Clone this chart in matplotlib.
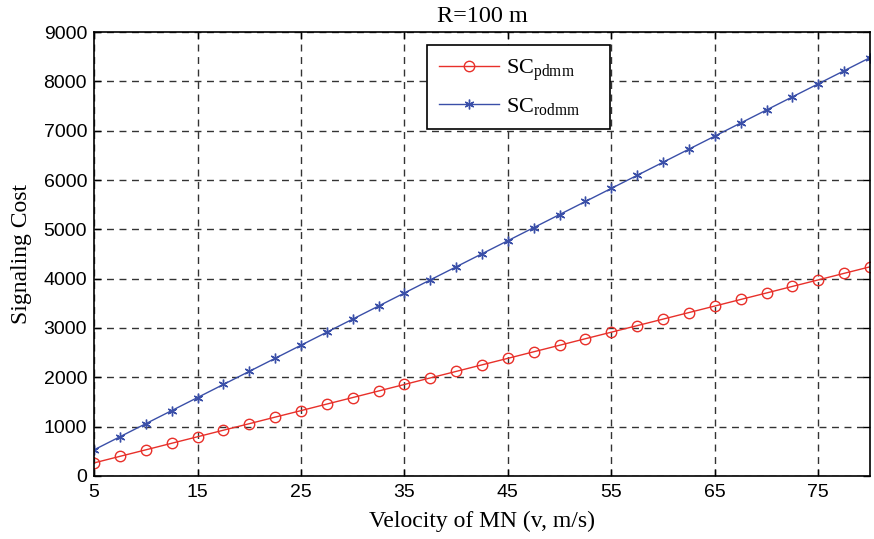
import matplotlib
matplotlib.use("Agg")
import matplotlib.pyplot as plt

velocity = [5, 7.5, 10, 12.5, 15, 17.5, 20, 22.5, 25, 27.5, 30, 32.5, 35, 37.5, 40,
            42.5, 45, 47.5, 50, 52.5, 55, 57.5, 60, 62.5, 65, 67.5, 70, 72.5, 75, 77.5, 80]
sc_pdmm = [265, 398, 530, 663, 795, 928, 1060, 1193, 1325, 1458, 1590, 1723, 1855, 1988, 2120,
           2253, 2385, 2518, 2650, 2783, 2915, 3048, 3180, 3313, 3445, 3578, 3710, 3843, 3975, 4108, 4240]
sc_rodmm = [530, 795, 1060, 1325, 1590, 1855, 2120, 2385, 2650, 2915, 3180, 3445, 3710, 3975, 4240,
            4505, 4770, 5035, 5300, 5565, 5830, 6095, 6360, 6625, 6890, 7155, 7420, 7685, 7950, 8215, 8480]
xticks = [5, 15, 25, 35, 45, 55, 65, 75]
yticks = [0, 1000, 2000, 3000, 4000, 5000, 6000, 7000, 8000, 9000]

plt.rcParams['mathtext.fontset'] = 'custom'
plt.rcParams['mathtext.rm'] = 'Liberation Serif'
plt.rcParams['mathtext.it'] = 'Liberation Serif'

fig = plt.figure(figsize=(8.74, 5.39), dpi=100)
ax = fig.add_axes([0.1076, 0.1169, 0.8878, 0.8237])

red = '#e8302a'
blue = '#3a4fa8'
ax.plot(velocity, sc_pdmm, color=red, lw=1, marker='o', ms=7.5, mfc='none', mec=red, mew=1,
        label=r'SC$_{\mathrm{pdmm}}$')
ax.plot(velocity, sc_rodmm, color=blue, lw=1, marker=(6, 2, 0), ms=7, mec=blue, mew=1,
        label=r'SC$_{\mathrm{rodmm}}$')

ax.set_xlim(5, 80)
ax.set_ylim(0, 9000)
ax.set_xticks(xticks)
ax.set_yticks(yticks)
ax.tick_params(direction='in', top=True, right=True, labelsize=14, length=5, width=1)
ax.tick_params(axis='x', pad=6)
ax.tick_params(axis='y', pad=5)
for lab in ax.get_xticklabels() + ax.get_yticklabels():
    lab.set_family('Liberation Sans')
ax.grid(True, color='#333333', linestyle=(0, (5, 4)), lw=1)
for s in ax.spines.values():
    s.set_linewidth(1.2)

ax.set_xlabel('Velocity of MN (v, m/s)', family='Liberation Serif', fontsize=17, labelpad=7)
ax.set_ylabel('Signaling Cost', family='Liberation Serif', fontsize=17, labelpad=8)
ax.set_title('R=100 m', family='Liberation Serif', fontsize=17.5, pad=7)

leg = ax.legend(loc='upper left', bbox_to_anchor=(0.429, 0.0, 0.236, 0.9707), mode='expand',
                borderaxespad=0,
                prop={'family': 'Liberation Serif', 'size': 16},
                fancybox=False, framealpha=1, edgecolor='black', handlelength=2.7,
                handletextpad=0.3, borderpad=0.55, labelspacing=0.6)
leg.get_frame().set_linewidth(1.2)

fig.savefig('out.png', dpi=100)
